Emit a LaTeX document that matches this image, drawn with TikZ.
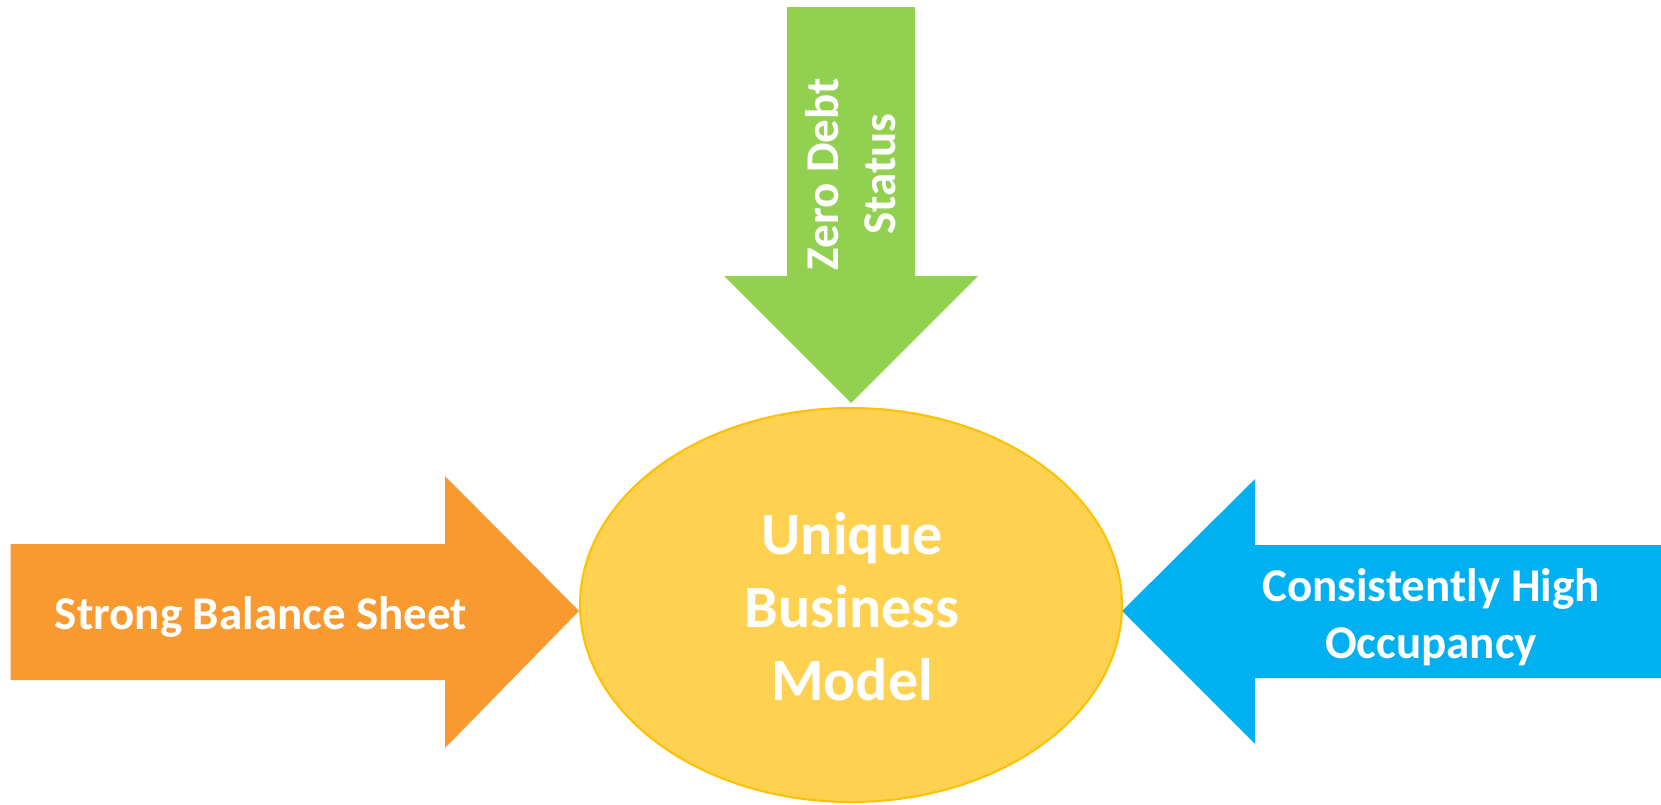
\documentclass[tikz,border=0pt]{standalone}
\usepackage{fontspec}
\setmainfont{Carlito}
\usetikzlibrary{shapes.geometric}
\definecolor{agreen}{HTML}{92D050}
\definecolor{aorange}{HTML}{F89A2F}
\definecolor{ablue}{HTML}{00B0F0}
\definecolor{efill}{HTML}{FED150}
\definecolor{eborder}{HTML}{FFC000}
\begin{document}
\begin{tikzpicture}[x=1pt,y=-1pt,
  lbl/.style={text=white,font=\fontsize{47}{57}\selectfont\bfseries,align=center,inner sep=0pt},
  corelbl/.style={text=white,font=\fontsize{60}{73}\selectfont\bfseries,align=center,inner sep=0pt},
  core/.style={ellipse,draw=eborder,fill=efill,line width=2pt,minimum width=542pt,minimum height=394pt,inner sep=0pt}]
\useasboundingbox (0,0) rectangle (1661,804);
\fill[white] (0,0) rectangle (1661,804);
% green arrow (down)
\fill[agreen] (787,7) -- (915,7) -- (915,276) -- (978,276) -- (851,403) -- (724,276) -- (787,276) -- cycle;
% orange arrow (right)
\fill[aorange] (10.6,544) -- (445,544) -- (445,476) -- (579,611) -- (445,748) -- (445,680) -- (10.6,680) -- cycle;
% blue arrow (left)
\fill[ablue] (1661,545) -- (1255,545) -- (1255,479) -- (1122,611) -- (1255,744) -- (1255,678) -- (1661,678) -- cycle;
% ellipse
\node[core] (core) at (851,605) {};
\node[corelbl] (coretext) at (852,607) {Unique\\Business\\Model};
\node[lbl,rotate=90] (zero) at (851,174) {Zero Debt\\Status};
\node[lbl,anchor=base] (strong) at (261,629) {Strong Balance Sheet};
\node[lbl] (occ) at (1431,617) {Consistently High\\Occupancy};
\end{tikzpicture}
\end{document}
